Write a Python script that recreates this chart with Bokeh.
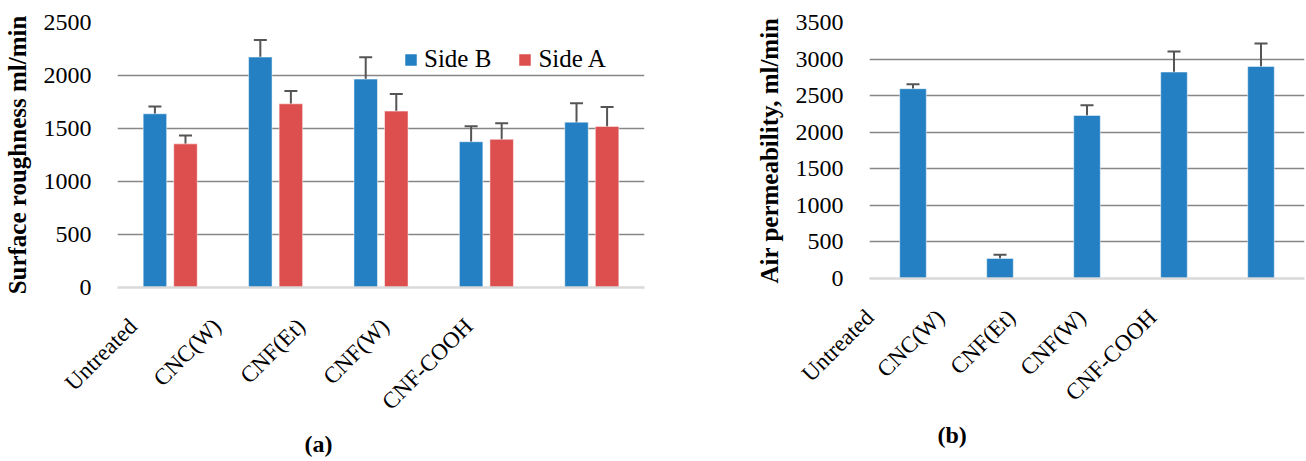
import math
from bokeh.plotting import figure
from bokeh.models import (Range1d, ColumnDataSource, Whisker, TeeHead, Title,
                          FixedTicker, LinearAxis, Legend, LegendItem)
from bokeh.layouts import row
from bokeh.embed import file_html
from bokeh.resources import INLINE

# ---------------- data ----------------
categories = ["Untreated", "CNC(W)", "CNF(Et)", "CNF(W)", "CNF-COOH"]
side_b = [1639, 2174, 1966, 1375, 1560]
side_b_err = [69, 162, 206, 147, 178]
side_a = [1355, 1733, 1664, 1398, 1520]
side_a_err = [80, 121, 162, 151, 182]
air_perm = [2595, 275, 2230, 2823, 2899]
air_perm_err = [60, 48, 137, 279, 313]
y1_ticks = [0, 500, 1000, 1500, 2000, 2500]
y2_ticks = [0, 500, 1000, 1500, 2000, 2500, 3000, 3500]

FONT = "Liberation Serif"
BLUE = "#2480c2"
RED = "#dd4f4e"
GRID = "#868686"
BASE = "#d9d9d9"
ERR = "#555555"

N = len(categories)
centers = [i + 0.5 for i in range(N)]   # category slots on a 0..N axis


def style(p, ticks, title, label_range, caption, cap_offset, cap_standoff):
    p.outline_line_color = None
    p.ygrid.ticker = FixedTicker(ticks=ticks[1:])
    p.ygrid.grid_line_color = GRID
    p.ygrid.grid_line_width = 1.5
    ya = p.yaxis[0]
    ya.ticker = FixedTicker(ticks=ticks)
    ya.axis_line_color = None
    ya.major_tick_line_color = None
    ya.minor_tick_line_color = None
    ya.major_tick_out = 0
    ya.major_tick_in = 0
    ya.minor_tick_out = 0
    ya.major_label_text_font = FONT
    ya.major_label_text_font_size = "24px"
    ya.major_label_text_color = "black"
    ya.major_label_standoff = 26
    ya.axis_label = title
    ya.axis_label_text_font = FONT
    ya.axis_label_text_font_size = "25px"
    ya.axis_label_text_font_style = "bold"
    ya.axis_label_text_color = "black"
    ya.axis_label_standoff = 10
    # category label axis
    p.extra_x_ranges = {"lab": label_range}
    ax = LinearAxis(x_range_name="lab",
                    ticker=FixedTicker(ticks=list(range(N))),
                    major_label_overrides={i: c for i, c in enumerate(categories)},
                    major_label_orientation=math.pi / 4)
    ax.axis_line_color = BASE
    ax.axis_line_width = 2.5
    ax.major_tick_line_color = None
    ax.minor_tick_line_color = None
    ax.major_tick_out = 0
    ax.major_tick_in = 0
    ax.minor_tick_out = 0
    ax.major_label_text_font = FONT
    ax.major_label_text_font_size = "23px"
    ax.major_label_text_color = "black"
    ax.major_label_standoff = 35
    p.add_layout(ax, "below")
    p.add_layout(Title(text=caption, align="left", offset=cap_offset, standoff=cap_standoff,
                       text_font=FONT, text_font_size="24px", text_font_style="bold",
                       text_color="black"), "below")


def whisker(p, src, base, lo, hi):
    w = Whisker(source=src, base=base, lower=lo, upper=hi,
                line_color=ERR, line_width=2,
                upper_head=TeeHead(size=13, line_color=ERR, line_width=2),
                lower_head=TeeHead(size=13, line_color=ERR, line_width=2))
    p.add_layout(w)


# ---------------- chart (a) ----------------
OFF = 0.145
src1 = ColumnDataSource(dict(
    xb=[c - OFF for c in centers], xa=[c + OFF for c in centers],
    b=side_b, b_lo=[v - e for v, e in zip(side_b, side_b_err)], b_hi=[v + e for v, e in zip(side_b, side_b_err)],
    a=side_a, a_lo=[v - e for v, e in zip(side_a, side_a_err)], a_hi=[v + e for v, e in zip(side_a, side_a_err)],
))

p1 = figure(x_range=Range1d(0, N), y_range=Range1d(0, 2500), x_axis_type=None,
            width=650, height=461, output_backend="svg", toolbar_location=None,
            min_border_left=117, min_border_right=6, min_border_top=22, min_border_bottom=174)
style(p1, y1_ticks, "Surface roughness ml/min", Range1d(-0.185, 6.089), "(a)", 187, 5)

rb = p1.vbar(x="xb", top="b", width=0.223, source=src1,
             fill_color=BLUE, line_color="white", line_alpha=0.5, line_width=1)
ra = p1.vbar(x="xa", top="a", width=0.223, source=src1,
             fill_color=RED, line_color="white", line_alpha=0.5, line_width=1)
whisker(p1, src1, "xb", "b_lo", "b_hi")
whisker(p1, src1, "xa", "a_lo", "a_hi")

legend = Legend(items=[LegendItem(label="Side B", renderers=[rb]),
                       LegendItem(label="Side A", renderers=[ra])],
                orientation="horizontal", location=(286, 214),
                glyph_width=15, glyph_height=15, label_standoff=6, spacing=26,
                padding=0, margin=0, border_line_alpha=0, background_fill_alpha=0,
                label_text_font=FONT, label_text_font_size="25px", label_text_color="black")
p1.add_layout(legend)

# ---------------- chart (b) ----------------
src2 = ColumnDataSource(dict(
    x=centers, v=air_perm,
    lo=[v - e for v, e in zip(air_perm, air_perm_err)],
    hi=[v + e for v, e in zip(air_perm, air_perm_err)],
))

p2 = figure(x_range=Range1d(0, N), y_range=Range1d(0, 3500), x_axis_type=None,
            width=656, height=452, output_backend="svg", toolbar_location=None,
            min_border_left=219, min_border_right=2, min_border_top=22, min_border_bottom=174)
style(p2, y2_ticks, "Air permeability, ml/min", Range1d(-0.005, 6.148), "(b)", 68, 5)

p2.vbar(x="x", top="v", width=0.306, source=src2,
        fill_color=BLUE, line_color="white", line_alpha=0.5, line_width=1)
whisker(p2, src2, "x", "lo", "hi")

layout = row(p1, p2)
open("out.html", "w").write(file_html(layout, INLINE))
